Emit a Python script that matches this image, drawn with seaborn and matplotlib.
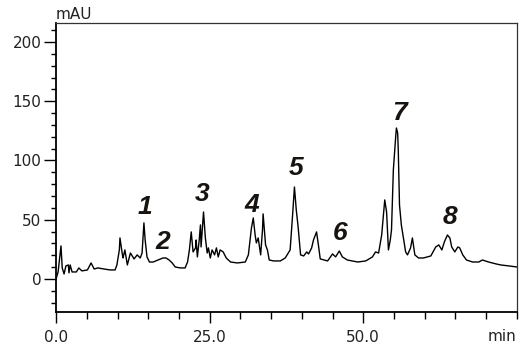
import numpy as np
import pandas as pd
import matplotlib
matplotlib.use("Agg")
import matplotlib.pyplot as plt
from matplotlib.ticker import MultipleLocator, FixedLocator
import seaborn as sns

# chromatogram trace (retention time in min, signal in mAU)
time_min = [0.0, 0.33, 0.8, 1.0, 1.3, 1.6, 2.0, 2.1, 2.3, 2.6, 3.3, 3.7, 4.2, 5.1, 5.7,
            6.2, 6.8, 7.8, 8.8, 9.6, 9.9, 10.3, 10.4, 10.8, 10.9, 11.2, 11.6, 12.1, 12.4,
            12.7, 13.2, 13.7, 14.0, 14.3, 14.5, 14.8, 15.2, 15.8, 16.6, 17.4, 17.9, 18.4,
            18.9, 19.4, 20.2, 21.0, 21.4, 21.7, 22.0, 22.3, 22.7, 22.8, 23.0, 23.3, 23.5,
            23.6, 24.0, 24.3, 24.6, 24.8, 25.1, 25.4, 25.8, 26.1, 26.4, 26.7, 27.2, 27.7,
            28.4, 29.5, 30.8, 31.3, 31.8, 32.1, 32.4, 32.6, 32.9, 33.3, 33.6, 33.7, 34.1,
            34.4, 34.7, 35.4, 36.5, 37.3, 37.8, 38.1, 38.5, 38.8, 39.1, 39.4, 39.8, 40.3,
            40.8, 41.1, 41.6, 41.9, 42.4, 42.7, 43.0, 44.2, 45.0, 45.5, 46.1, 46.6, 47.4,
            49.1, 50.4, 51.5, 52.0, 52.5, 53.0, 53.5, 53.8, 54.1, 54.4, 54.6, 54.9, 55.3,
            55.4, 55.6, 55.7, 55.9, 56.2, 56.6, 56.9, 57.2, 57.7, 58.0, 58.4, 59.0, 59.8,
            61.0, 61.8, 62.3, 62.8, 63.2, 63.7, 64.1, 64.4, 64.9, 65.4, 65.7, 66.2, 66.8,
            67.8, 68.8, 69.4, 70.4, 71.6, 72.4, 73.7, 75.0]
signal_mau = [0.0, 5.9, 27.9, 9.3, 4.2, 11.0, 11.8, 5.1, 11.8, 5.9, 5.9, 9.3, 6.8, 7.6, 13.5,
              8.4, 9.3, 8.4, 7.6, 7.6, 11.8, 24.5, 34.6, 20.3, 17.7, 24.5, 11.8, 21.9, 19.4,
              16.9, 20.3, 17.7, 21.9, 47.3, 32.9, 18.6, 14.3, 14.3, 16.0, 17.7, 17.7, 16.0,
              13.5, 10.1, 9.3, 9.3, 14.3, 24.5, 39.7, 22.8, 26.2, 32.9, 18.6, 32.9, 45.6,
              27.0, 56.5, 34.6, 21.9, 26.2, 17.7, 24.5, 20.3, 26.2, 18.6, 24.5, 22.8, 17.7,
              14.3, 13.5, 14.3, 20.3, 43.0, 51.5, 37.1, 30.4, 34.6, 20.3, 41.4, 54.9, 28.7,
              24.5, 16.0, 15.2, 15.2, 17.7, 21.9, 24.5, 54.0, 77.6, 58.2, 43.9, 20.3, 19.4,
              22.8, 21.1, 26.2, 32.9, 39.7, 28.7, 16.9, 15.2, 21.1, 18.6, 23.6, 18.6, 16.0,
              14.3, 15.2, 18.6, 22.8, 21.9, 37.1, 66.7, 56.5, 24.5, 32.9, 41.4, 92.0, 121.5,
              127.4, 123.2, 108.9, 62.5, 45.6, 32.9, 22.8, 20.3, 26.2, 34.6, 20.3, 17.7, 17.7,
              19.4, 27.0, 28.7, 24.5, 31.2, 37.1, 34.6, 27.0, 22.8, 27.0, 26.2, 20.3, 16.0,
              14.3, 14.3, 16.0, 14.3, 12.7, 11.8, 11.0, 10.1]

# peak numbering
peak_ids = ['1', '2', '3', '4', '5', '6', '7', '8']
peak_label_time = [14.5, 17.4, 23.8, 31.9, 39.0, 46.3, 55.9, 64.1]
peak_label_mau = [61, 31, 72, 62, 94, 39, 140, 52]

x_major = [0, 25, 50]
x_major_labels = ['0.0', '25.0', '50.0']
y_major = [0, 50, 100, 150, 200]

sns.set_style("ticks")
plt.rcParams['font.family'] = ['DejaVu Sans']

fig = plt.figure(figsize=(5.29, 3.6), dpi=100)
ax = fig.add_axes([0.106, 0.133, 0.871, 0.803])

df = pd.DataFrame({'time': time_min, 'mAU': signal_mau})
sns.lineplot(data=df, x='time', y='mAU', color='black', linewidth=1.0, sort=False, ax=ax)

for pid, tx, ty in zip(peak_ids, peak_label_time, peak_label_mau):
    ax.text(tx, ty, pid, ha='center', va='center', fontsize=19, fontweight='bold',
            fontstyle='italic', family='Liberation Sans', color='#161310')

ax.set_xlim(0, 75)
ax.set_ylim(-28, 216)
ax.xaxis.set_major_locator(FixedLocator(x_major))
ax.set_xticklabels(x_major_labels)
ax.xaxis.set_minor_locator(MultipleLocator(5))
ax.yaxis.set_major_locator(FixedLocator(y_major))
ax.yaxis.set_minor_locator(MultipleLocator(10))
ax.set_xlabel('')
ax.set_ylabel('')

ax.tick_params(axis='both', which='both', direction='out', color='black', labelsize=11,
               labelcolor='#222222')
ax.tick_params(axis='y', which='major', length=9, width=1, pad=1.5)
ax.tick_params(axis='y', which='minor', length=3.5, width=1)
ax.tick_params(axis='x', which='major', length=8, width=1, pad=5)
ax.tick_params(axis='x', which='minor', length=5, width=1)

for side in ['left', 'bottom']:
    ax.spines[side].set_linewidth(1.3)
    ax.spines[side].set_color('black')
for side in ['top', 'right']:
    ax.spines[side].set_linewidth(0.9)
    ax.spines[side].set_color('#333333')

ax.text(0.0, 1.005, 'mAU', transform=ax.transAxes, ha='left', va='bottom', fontsize=11,
        color='#222222')
ax.text(1.0, -0.058, 'min', transform=ax.transAxes, ha='right', va='top', fontsize=11,
        color='#222222')

fig.savefig('out.png', dpi=100)
